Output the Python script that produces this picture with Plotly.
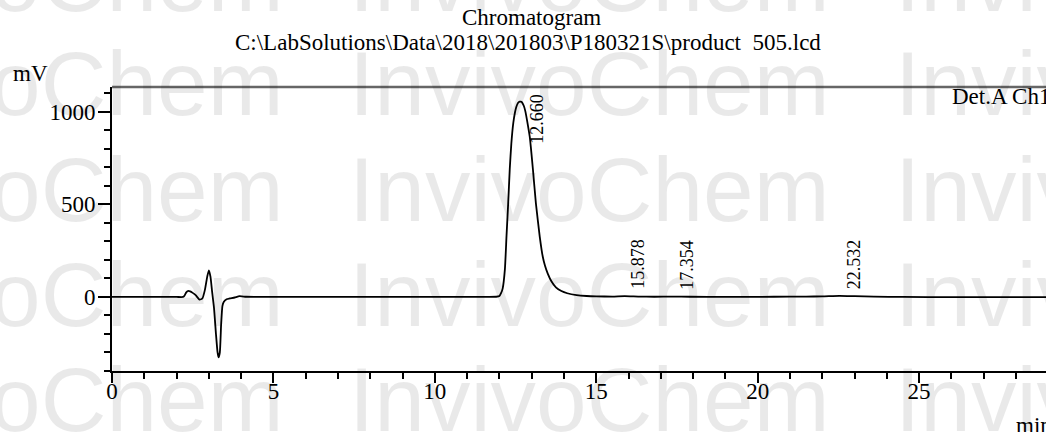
import plotly.graph_objects as go

# ---- data ----
time_min = [0, 1.0, 2.0, 2.20, 2.25, 2.30, 2.35, 2.42, 2.50, 2.60, 2.71, 2.80, 2.88, 2.95, 3.00,
            3.05, 3.10, 3.16, 3.22, 3.27, 3.30, 3.34, 3.38, 3.42, 3.46, 3.55, 3.65, 3.80, 3.95,
            4.15, 4.40, 6.0, 8.0, 10.0, 11.5, 11.9, 12.0, 12.05, 12.1, 12.17, 12.22, 12.27,
            12.32, 12.37, 12.43, 12.48, 12.52, 12.56, 12.60, 12.63, 12.66, 12.69, 12.72, 12.76,
            12.80, 12.86, 12.94, 13.04, 13.13, 13.25, 13.34, 13.41, 13.50, 13.61, 13.75, 13.92,
            14.10, 14.39, 14.70, 15.0, 15.5, 15.88, 16.3, 16.8, 17.35, 17.9, 19.0, 20.5, 21.5,
            22.0, 22.53, 23.0, 23.6, 24.5, 26.0, 28.0, 29.0]
signal_mv = [0, 0, 0, 0, 8, 25, 32, 30, 22, 8, -14, -8, 40, 110, 144,
             110, 30, -60, -200, -300, -326, -300, -150, -50, -27, -12, -8, -3, 4,
             1, 0, 0, 0, 0, 0, 1, 5, 20, 45, 150, 330, 500,
             690, 830, 940, 995, 1025, 1043, 1052, 1055, 1055, 1053, 1045, 1030,
             1005, 950, 864, 685, 505, 325, 220, 170, 125, 85, 52, 32,
             20, 10, 5, 3, 2, 4, 2, 1, 2, 1, 0.5, 1, 2,
             3, 6, 4, 1.5, 0, -1, -1, -1]

peak_times = [12.660, 15.878, 17.354, 22.532]
peak_heights = [1055, 4, 2, 6]
peak_labels = ["12.660", "15.878", "17.354", "22.532"]

title_line1 = "Chromatogram"
title_line2 = "C:\\LabSolutions\\Data\\2018\\201803\\P180321S\\product  505.lcd"
y_unit = "mV"
x_unit = "min"
detector = "Det.A Ch1"
watermark = "InvivoChem"

# ---- layout geometry ----
W, H = 1046, 432
ML, MR, MT, MB = 112, 0, 87, 61
PW, PH = W - ML - MR, H - MT - MB
X_RANGE = [0, 28.93]
Y_RANGE = [-400, 1134]
SERIF = "Liberation Serif"
MV_PER_PX = (Y_RANGE[1] - Y_RANGE[0]) / PH


def px(xp):
    return (xp - ML) / PW


def py(yp):
    return (H - MB - yp) / PH


fig = go.Figure()
fig.add_trace(go.Scatter(
    x=time_min, y=signal_mv, mode="lines",
    line=dict(color="black", width=1.8, shape="spline", smoothing=0.5),
    hoverinfo="skip", showlegend=False,
))

annotations = []

# watermark (semi-transparent so the trace stays visible through it)
for base_y in [13, 117, 222, 327, 432]:
    for start_x in [-199, 347, 893]:
        annotations.append(dict(
            text=watermark, xref="paper", yref="paper",
            x=px(start_x), y=py(base_y - 33), xanchor="left", yanchor="middle",
            showarrow=False,
            font=dict(family="Liberation Sans", size=91, color="rgba(0,0,0,0.085)"),
        ))


# titles and unit labels
def text_at(txt, xp, yp, anchor="center", size=23):
    annotations.append(dict(text=txt, xref="paper", yref="paper", x=px(xp), y=py(yp),
                            xanchor=anchor, yanchor="middle", showarrow=False,
                            font=dict(family=SERIF, size=size, color="black")))


text_at(title_line1, 531, 17)
text_at(title_line2, 528, 42)
text_at(y_unit, 11, 73, "left")
text_at(x_unit, 1014, 425, "left")
text_at(detector, 950, 97, "left")

# peak labels (rotated)
label_len_mv = 50 * MV_PER_PX
ytop_limit = Y_RANGE[1] - 5 * MV_PER_PX
for t, h, lab in zip(peak_times, peak_heights, peak_labels):
    if h + label_len_mv > ytop_limit:
        annotations.append(dict(text=lab, x=t, y=ytop_limit, xref="x", yref="y",
                                xanchor="center", yanchor="top", textangle=-90,
                                xshift=16, showarrow=False,
                                font=dict(family=SERIF, size=18, color="black")))
    else:
        annotations.append(dict(text=lab, x=t, y=h, xref="x", yref="y",
                                xanchor="center", yanchor="bottom", textangle=-90,
                                xshift=14, yshift=5, showarrow=False,
                                font=dict(family=SERIF, size=18, color="black")))

fig.update_layout(
    width=W, height=H,
    margin=dict(l=ML, r=MR, t=MT, b=MB, pad=0),
    paper_bgcolor="white", plot_bgcolor="white",
    font=dict(family=SERIF, size=23, color="black"),
    annotations=annotations,
    shapes=[dict(type="line", xref="paper", yref="paper", x0=0, x1=1, y0=1, y1=1,
                 line=dict(color="#666666", width=2.5))],
    showlegend=False,
)
fig.update_xaxes(
    range=X_RANGE, showgrid=False, zeroline=False,
    showline=True, linecolor="black", linewidth=2,
    ticks="outside", ticklen=10, tickwidth=1.5, tickcolor="black",
    tick0=0, dtick=5, ticklabelstandoff=-12,
    minor=dict(ticks="outside", ticklen=6, tickwidth=1.5, tickcolor="black", dtick=1, showgrid=False),
    tickfont=dict(family=SERIF, size=23, color="black"),
)
fig.update_yaxes(
    range=Y_RANGE, showgrid=False, zeroline=False,
    showline=True, linecolor="black", linewidth=2,
    ticks="outside", ticklen=12, tickwidth=1.5, tickcolor="black",
    tick0=0, dtick=500, ticklabelstandoff=-2,
    minor=dict(ticks="outside", ticklen=6, tickwidth=1.5, tickcolor="black", dtick=100, showgrid=False),
    tickfont=dict(family=SERIF, size=23, color="black"),
)

fig.write_html("out.html", config={"displayModeBar": False},
               post_script="document.body.style.margin='0px';")
